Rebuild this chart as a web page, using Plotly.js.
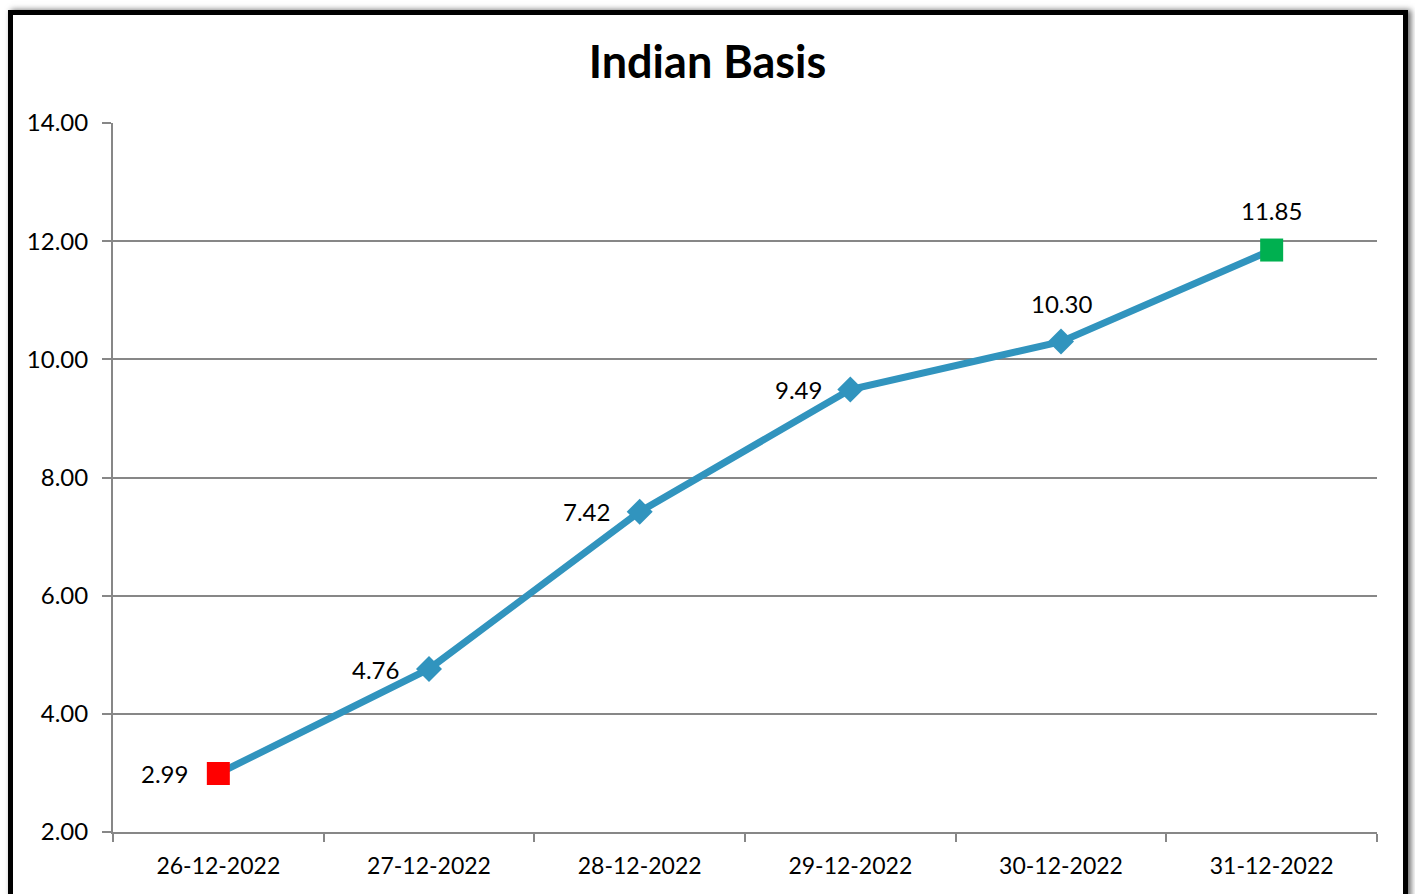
<!DOCTYPE html>
<html>
<head>
<meta charset="utf-8">
<script src="https://cdn.plot.ly/plotly-3.0.1.min.js"></script>
<style>
  html, body { margin: 0; padding: 0; background: #fff; overflow: hidden; }
  #chart { position: absolute; left: 0; top: 0; width: 1415px; height: 894px; }
  #frame { position: absolute; left: 8px; top: 10px; width: 1400px; height: 1000px;
           box-sizing: border-box; border: 5px solid #000; pointer-events: none;
           box-shadow: 3px 0px 6px rgba(0,0,0,0.6); }
</style>
</head>
<body>
<div id="chart"></div>
<div id="frame"></div>
<script>
const categories = ["26-12-2022", "27-12-2022", "28-12-2022", "29-12-2022", "30-12-2022", "31-12-2022"];
const values = [2.99, 4.76, 7.42, 9.49, 10.30, 11.85];
const valueLabels = ["2.99", "4.76", "7.42", "9.49", "10.30", "11.85"];
const yTickValues = [2, 4, 6, 8, 10, 12, 14];

const lineColor = "#3194BE";
const markerSymbols = ["square", "diamond", "diamond", "diamond", "diamond", "square"];
const markerColors = ["#FF0000", lineColor, lineColor, lineColor, lineColor, "#00B050"];
const markerSizes = [23, 20, 20, 20, 20, 23];
const labelPlacement = [
  {xanchor: "right", yanchor: "middle", xshift: -28, yshift: 0},
  {xanchor: "right", yanchor: "middle", xshift: -28, yshift: -1},
  {xanchor: "right", yanchor: "middle", xshift: -28, yshift: 0},
  {xanchor: "right", yanchor: "middle", xshift: -26, yshift: 0},
  {xanchor: "center", yanchor: "middle", xshift: 0, yshift: 38},
  {xanchor: "center", yanchor: "middle", xshift: 0, yshift: 40}
];

const font = "Lato, 'Noto Sans', sans-serif";

const trace = {
  x: categories,
  y: values,
  type: "scatter",
  mode: "lines+markers",
  line: {color: lineColor, width: 7},
  marker: {symbol: markerSymbols, color: markerColors, size: markerSizes, opacity: 1, line: {width: 0}},
  opacity: 1,
  hoverinfo: "skip",
  cliponaxis: false
};

const annotations = categories.map((c, i) => Object.assign({
  x: c, y: values[i], xref: "x", yref: "y",
  text: valueLabels[i], showarrow: false,
  font: {family: font, size: 24, color: "#000"}
}, labelPlacement[i]));

const layout = {
  width: 1415, height: 894,
  margin: {l: 113, r: 38, t: 123, b: 62, pad: 0},
  paper_bgcolor: "#fff", plot_bgcolor: "#fff",
  showlegend: false,
  title: {text: "<b>Indian Basis</b>", font: {family: font, size: 45, color: "#000"},
          x: 0.5, xanchor: "center", y: 1 - 62/894, yanchor: "middle", yref: "container"},
  xaxis: {
    type: "category", range: [-0.5, 5.5], tickson: "boundaries",
    ticks: "outside", ticklen: 8, tickwidth: 2, tickcolor: "#878787",
    showline: true, linecolor: "#878787", linewidth: 2,
    showgrid: false, zeroline: false, ticklabelstandoff: 12,
    tickfont: {family: font, size: 23, color: "#000"}, fixedrange: true
  },
  yaxis: {
    range: [2, 14], tickvals: yTickValues, tickformat: ".2f",
    ticks: "outside", ticklen: 9, tickwidth: 2, tickcolor: "#878787",
    showline: true, linecolor: "#878787", linewidth: 2,
    showgrid: true, gridcolor: "#878787", gridwidth: 2, zeroline: false,
    ticklabelstandoff: 9,
    tickfont: {family: font, size: 24, color: "#000"}, fixedrange: true
  },
  annotations: annotations
};

Plotly.newPlot("chart", [trace], layout, {displayModeBar: false, staticPlot: true});
</script>
</body>
</html>
